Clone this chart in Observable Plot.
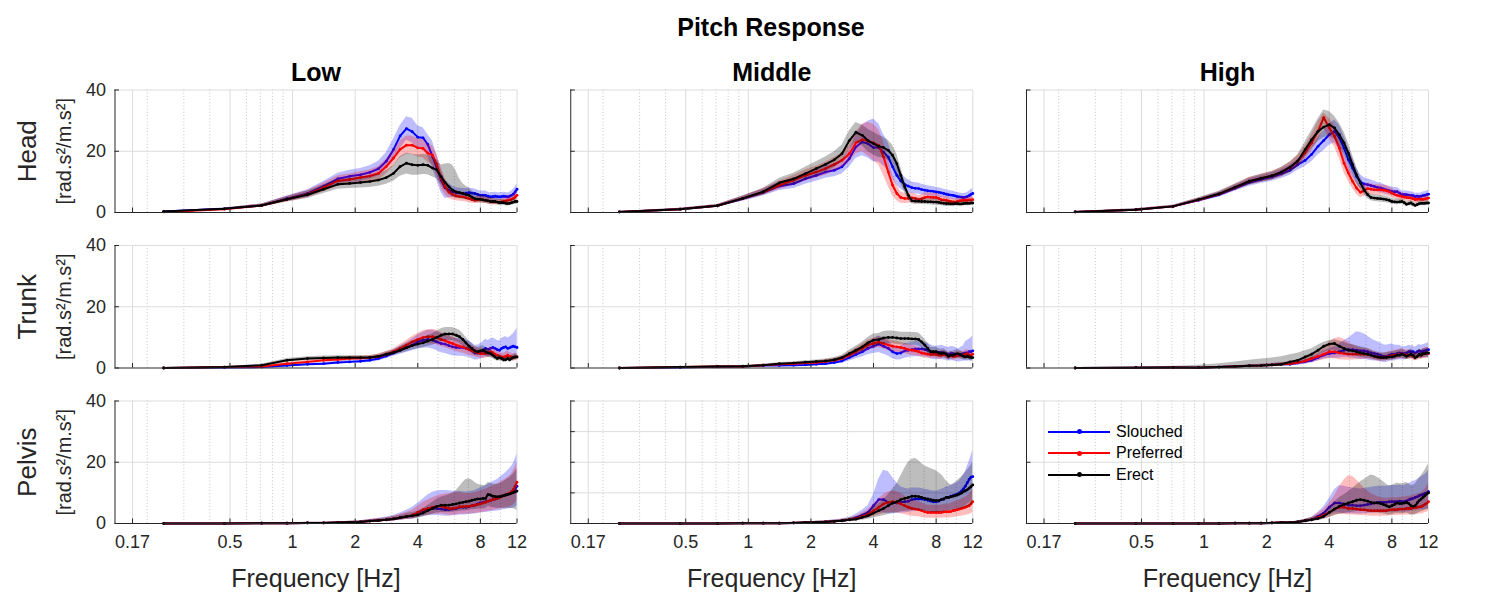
<!DOCTYPE html>
<html><head><meta charset="utf-8">
<script src="https://cdn.jsdelivr.net/npm/d3@7"></script>
<script src="https://cdn.jsdelivr.net/npm/@observablehq/plot@0.6"></script>
<style>
body{margin:0;background:#fff;}
#wrap{position:relative;width:1500px;height:600px;font-family:"Liberation Sans",Arial,Helvetica,sans-serif;background:#fff;overflow:hidden}
#title{position:absolute;left:471px;width:600px;top:12px;line-height:30px;text-align:center;font-weight:bold;font-size:25px;color:#000}
#chart{position:absolute;left:0;top:45px}
#legend{position:absolute;left:1048px;top:421px;font-size:16px;color:#000}
.lrow{display:flex;align-items:center;height:21.5px}
.lline{position:relative;width:62px;height:2px}
.ldot{position:absolute;left:28.5px;top:-1.5px;width:5px;height:5px;border-radius:50%}
.ltext{margin-left:6px}
</style></head>
<body><div id="wrap"><div id="title">Pitch Response</div><div id="chart"></div><div id="legend"></div></div>
<script>
// ---------- categories / labels ----------
const rows = ["Head", "Trunk", "Pelvis"];
const cols = ["Low", "Middle", "High"];
const seriesNames = ["Slouched", "Preferred", "Erect"];
const seriesColors = ["#0000ff", "#ff0000", "#000000"];
const yUnit = "[rad.s²/m.s²]";
const xLabel = "Frequency [Hz]";
const xDomain = [0.14, 12];
const xTicks = [0.17, 0.5, 1, 2, 4, 8, 12];
const xTickLabels = ["0.17", "0.5", "1", "2", "4", "8", "12"];
const xMinor = [0.2, 0.3, 0.4, 0.6, 0.7, 0.8, 0.9, 3, 5, 6, 7, 9, 10];
const yTicksLabeled = [0, 20, 40];
const yTicksDefault = [0, 20, 40];
const yTicksPelvisMiddle = [0, 10, 20, 30, 40];
const yGridDefault = [20, 40];
const yGridPelvisMiddle = [10, 20, 30, 40];

// ---------- frequencies (Hz) ----------
const freqs = [0.24,0.47,0.71,0.94,1.18,1.41,1.65,1.88,2.12,2.35,2.59,2.82,3.06,3.29,3.53,3.76,4.00,4.24,4.47,4.71,4.94,5.18,5.41,5.65,5.88,6.12,6.35,6.59,6.82,7.06,7.29,7.53,7.76,8.00,8.24,8.47,8.71,8.94,9.18,9.41,9.65,9.88,10.12,10.35,10.59,10.82,11.06,11.29,11.53,11.76,12.00];

// ---------- Head / Low ----------
const headLow_S = [0.3,1.2,2.3,4.5,6.2,8.6,11.0,11.8,12.3,13.1,14.3,16.7,20.6,25.0,27.4,26.4,24.6,24.4,22.2,18.3,14.5,10.6,8.1,7.3,6.7,6.5,6.4,6.2,6.3,6.5,6.3,6.2,5.9,5.6,5.6,5.6,5.3,5.1,5.2,5.3,5.2,5.1,5.2,5.3,5.2,5.1,5.3,5.6,6.0,6.7,7.6];
const headLow_S_lo = [0.2,0.9,1.8,3.6,5.0,7.1,9.2,9.8,10.2,10.9,11.9,13.9,17.0,20.8,23.6,22.8,21.0,20.6,18.4,14.5,10.5,6.5,4.6,4.8,5.0,5.0,5.0,4.8,4.9,5.0,4.9,4.8,4.6,4.4,4.4,4.4,4.1,4.0,4.0,4.1,4.0,3.9,4.0,4.1,4.0,3.9,4.1,4.3,4.6,5.1,5.7];
const headLow_S_hi = [0.4,1.5,2.8,5.4,7.4,10.1,12.8,13.8,14.4,15.3,16.7,19.5,24.0,28.3,31.3,30.8,28.3,27.7,25.5,23.3,18.8,13.8,10.6,9.5,8.6,8.2,8.0,7.8,7.8,8.0,7.8,7.7,7.3,7.0,7.0,7.0,6.6,6.4,6.5,6.6,6.5,6.4,6.5,6.6,6.5,6.4,6.6,7.0,7.5,8.3,9.4];
const headLow_P = [0.2,1.1,2.3,4.3,6.0,8.2,10.3,10.8,11.4,11.9,12.8,15.0,17.8,20.6,22.0,22.0,21.1,20.9,19.4,18.7,15.6,11.2,8.4,6.7,5.9,5.4,5.2,5.1,4.8,4.5,4.2,4.0,4.1,4.3,4.1,4.0,3.8,3.6,3.5,3.4,3.4,3.4,3.5,3.6,3.8,4.0,4.1,4.3,4.6,5.1,5.6];
const headLow_P_lo = [0.1,0.8,1.8,3.4,4.8,6.8,8.6,9.0,9.5,9.9,10.6,12.6,15.2,17.8,19.0,18.9,18.1,17.9,16.4,15.6,12.2,7.8,5.6,4.6,4.1,3.8,3.7,3.6,3.4,3.2,3.0,2.9,3.0,3.1,3.0,2.9,2.8,2.6,2.5,2.5,2.5,2.5,2.6,2.6,2.8,2.9,3.0,3.1,3.4,3.8,4.2];
const headLow_P_hi = [0.3,1.4,2.8,5.2,7.2,9.6,12.0,12.6,13.3,13.9,15.0,17.4,20.4,23.4,25.0,25.0,24.1,23.9,22.4,21.8,19.0,14.6,11.2,8.8,7.7,7.0,6.7,6.6,6.2,5.8,5.4,5.1,5.2,5.5,5.2,5.1,4.8,4.6,4.5,4.3,4.3,4.3,4.4,4.6,4.8,5.1,5.2,5.5,5.8,6.4,7.0];
const headLow_E = [0.3,1.2,2.3,4.3,5.8,7.6,9.2,9.5,9.8,10.1,10.6,11.4,12.8,15.0,16.1,15.6,15.4,15.6,15.4,14.5,13.9,11.7,9.8,8.4,7.3,6.7,6.5,6.2,5.9,5.6,5.0,4.5,4.4,4.3,4.1,4.0,3.8,3.6,3.6,3.6,3.4,3.2,3.2,3.2,3.0,2.9,3.0,3.2,3.4,3.6,3.6];
const headLow_E_lo = [0.2,0.9,1.8,3.4,4.6,6.2,7.6,7.8,8.0,8.2,8.6,9.2,10.2,11.8,12.6,12.2,12.2,12.4,12.3,11.6,11.0,9.0,7.2,5.9,5.0,4.6,4.5,4.4,4.2,4.0,3.6,3.3,3.2,3.1,3.0,2.9,2.8,2.6,2.6,2.6,2.5,2.3,2.3,2.3,2.2,2.1,2.2,2.3,2.5,2.6,2.6];
const headLow_E_hi = [0.4,1.5,2.8,5.2,7.0,9.0,10.8,11.2,11.6,12.0,12.6,13.6,15.4,18.2,19.4,19.0,18.8,19.0,18.8,18.0,17.2,15.5,15.8,16.0,15.5,13.5,11.0,9.5,8.6,8.0,7.0,6.4,6.2,6.0,5.6,5.4,5.1,4.8,4.8,4.8,4.6,4.3,4.3,4.3,4.0,3.9,4.0,4.3,4.6,4.8,4.8];

// ---------- Head / Middle ----------
const headMid_S = [0.2,1.1,2.2,4.5,6.5,8.6,9.4,11.0,12.1,13.2,13.8,14.9,17.6,21.4,23.0,22.5,21.2,21.2,19.7,18.1,14.9,12.1,10.3,9.2,8.6,8.1,7.9,7.8,7.5,7.3,7.1,7.0,6.9,6.7,6.6,6.4,6.2,6.0,5.8,5.7,5.6,5.4,5.2,5.1,5.0,4.9,5.0,5.2,5.5,5.9,6.2];
const headMid_S_lo = [0.1,0.8,1.8,3.7,5.4,7.2,7.8,9.2,10.2,11.2,11.7,12.6,14.8,17.6,18.5,17.8,16.5,16.5,15.2,13.8,11.0,8.8,7.6,6.9,6.5,6.2,6.1,6.0,5.8,5.6,5.5,5.4,5.3,5.2,5.1,4.9,4.8,4.6,4.4,4.3,4.2,4.1,3.9,3.8,3.7,3.6,3.7,3.9,4.1,4.4,4.6];
const headMid_S_hi = [0.3,1.4,2.6,5.3,7.6,10.0,11.0,12.8,14.0,15.2,15.9,17.2,20.4,25.2,28.5,29.8,30.5,29.0,25.5,22.8,18.8,15.4,13.0,11.5,10.7,10.0,9.7,9.6,9.2,9.0,8.7,8.6,8.5,8.2,8.1,7.9,7.6,7.4,7.2,7.1,7.0,6.7,6.5,6.4,6.3,6.2,6.3,6.5,6.9,7.4,7.8];
const headMid_P = [0.2,1.1,2.2,4.6,6.7,8.9,10.5,12.1,13.2,14.3,15.7,17.0,19.2,22.7,23.8,23.3,22.7,21.9,18.1,13.2,8.9,6.2,4.9,4.6,4.6,4.8,4.6,4.2,4.5,4.9,5.1,5.0,4.9,4.9,4.6,4.2,4.1,4.0,3.8,3.6,3.5,3.4,3.6,3.8,3.9,4.0,4.0,4.0,4.1,4.1,4.2];
const headMid_P_lo = [0.1,0.8,1.8,3.8,5.6,7.5,8.9,10.3,11.3,12.2,13.4,14.6,16.4,19.2,19.8,18.5,17.0,15.5,12.0,8.5,5.5,3.8,3.0,2.9,3.0,3.2,3.1,2.9,3.1,3.5,3.7,3.6,3.5,3.5,3.3,3.0,2.9,2.8,2.7,2.5,2.4,2.4,2.5,2.7,2.8,2.9,2.9,2.9,3.0,3.0,3.1];
const headMid_P_hi = [0.3,1.4,2.6,5.4,7.8,10.3,12.1,13.9,15.1,16.4,18.0,19.4,22.0,26.2,28.8,29.5,28.8,27.0,23.0,17.5,12.3,8.8,6.8,6.3,6.2,6.4,6.1,5.5,5.9,6.3,6.5,6.4,6.3,6.3,5.9,5.4,5.3,5.2,4.9,4.7,4.6,4.4,4.7,4.9,5.0,5.1,5.1,5.1,5.2,5.2,5.3];
const headMid_E = [0.2,1.1,2.2,4.6,6.8,9.7,11.0,12.7,14.3,15.7,17.2,19.2,23.5,26.2,25.2,23.5,22.5,21.6,21.2,20.3,18.7,15.9,12.1,8.4,5.6,3.8,3.7,3.7,3.6,3.6,3.5,3.5,3.4,3.4,3.3,3.1,3.0,2.9,2.9,2.8,2.8,2.9,2.9,2.8,2.8,2.9,3.0,3.0,3.0,3.1,3.1];
const headMid_E_lo = [0.1,0.8,1.8,3.8,5.7,8.2,9.2,10.6,12.0,13.3,14.6,16.4,20.4,23.0,21.8,19.8,18.8,18.0,17.8,17.0,15.4,12.8,9.5,6.4,4.2,2.8,2.7,2.7,2.6,2.6,2.5,2.5,2.4,2.4,2.3,2.2,2.1,2.0,2.0,2.0,2.0,2.1,2.1,2.0,2.0,2.1,2.2,2.2,2.2,2.3,2.3];
const headMid_E_hi = [0.3,1.4,2.6,5.4,7.9,11.2,12.8,14.8,16.6,18.1,19.8,22.0,26.6,29.4,28.6,27.2,26.2,25.2,24.6,23.6,22.0,19.0,14.7,10.4,7.0,4.8,4.7,4.7,4.6,4.6,4.5,4.5,4.4,4.4,4.3,4.0,3.9,3.8,3.8,3.6,3.6,3.7,3.7,3.6,3.6,3.7,3.8,3.8,3.8,3.9,3.9];

// ---------- Head / High ----------
const headHigh_S = [0.2,0.9,2.0,4.0,5.8,7.9,9.8,10.8,11.6,12.6,13.8,15.6,17.0,19.0,21.6,23.5,25.4,26.5,24.4,21.0,17.3,14.5,11.8,10.0,9.3,9.1,8.8,8.5,8.2,8.0,7.7,7.4,7.1,6.9,6.8,6.8,6.3,5.8,5.9,5.8,5.7,5.6,5.5,5.2,5.3,5.2,5.3,5.5,5.6,5.8,6.0];
const headHigh_S_lo = [0.1,0.6,1.6,3.4,5.0,6.9,8.6,9.5,10.2,11.1,12.2,13.8,15.0,16.6,18.8,20.2,22.0,22.8,20.6,17.4,14.0,11.5,9.3,7.9,7.4,7.3,7.1,6.9,6.7,6.5,6.3,6.0,5.8,5.6,5.5,5.5,5.1,4.7,4.8,4.7,4.6,4.5,4.4,4.2,4.3,4.2,4.3,4.4,4.5,4.7,4.8];
const headHigh_S_hi = [0.3,1.2,2.4,4.6,6.6,8.9,11.0,12.1,13.0,14.1,15.4,17.4,19.0,21.4,24.4,26.8,28.8,30.2,28.4,25.0,21.0,17.8,14.6,12.3,11.4,11.0,10.6,10.2,9.8,9.6,9.2,8.8,8.5,8.3,8.2,8.2,7.6,7.0,7.1,7.0,6.9,6.8,6.7,6.3,6.4,6.3,6.4,6.7,6.8,7.0,7.3];
const headHigh_P = [0.2,0.9,2.0,4.1,6.0,8.2,10.2,11.2,12.0,13.2,14.7,16.7,19.5,22.7,26.5,31.0,27.6,24.9,21.0,16.1,12.9,10.1,8.0,6.6,7.1,7.8,7.6,7.4,7.4,7.4,7.3,7.1,6.8,6.3,5.9,5.6,5.4,5.2,5.0,4.9,4.8,4.7,4.5,4.2,4.3,4.4,4.3,4.3,4.4,4.6,4.7];
const headHigh_P_lo = [0.1,0.6,1.6,3.5,5.2,7.2,9.0,9.9,10.6,11.7,13.0,14.8,17.2,20.0,23.4,27.6,24.2,21.4,17.6,13.0,10.2,7.8,6.0,4.8,5.3,6.0,5.8,5.7,5.7,5.7,5.6,5.4,5.2,4.8,4.5,4.2,4.1,3.9,3.8,3.7,3.6,3.5,3.4,3.1,3.2,3.3,3.2,3.2,3.3,3.4,3.5];
const headHigh_P_hi = [0.3,1.2,2.4,4.7,6.8,9.2,11.4,12.5,13.4,14.7,16.4,18.6,21.8,25.4,29.6,32.5,30.8,28.4,24.4,19.2,15.6,12.4,10.0,8.4,8.9,9.6,9.4,9.1,9.1,9.1,9.0,8.8,8.4,7.8,7.3,7.0,6.7,6.5,6.2,6.1,6.0,5.9,5.6,5.3,5.4,5.5,5.4,5.4,5.5,5.8,5.9];
const headHigh_E = [0.2,0.9,2.0,4.2,6.1,8.3,10.2,11.2,12.0,13.2,14.8,16.8,20.5,23.8,26.5,27.9,28.7,27.6,25.4,22.7,19.4,15.6,12.3,9.6,7.4,5.8,4.9,4.7,4.6,4.5,4.4,4.2,4.0,3.6,3.5,3.4,3.5,3.6,3.2,2.7,2.9,3.1,2.7,2.3,2.6,2.9,3.0,3.0,3.0,3.1,3.1];
const headHigh_E_lo = [0.1,0.6,1.6,3.6,5.3,7.3,9.0,9.9,10.6,11.7,13.1,14.8,18.0,20.8,23.2,24.4,25.0,23.8,21.6,19.0,16.0,12.6,9.8,7.6,5.8,4.5,3.8,3.6,3.5,3.4,3.3,3.2,3.0,2.7,2.6,2.5,2.6,2.7,2.3,1.9,2.1,2.3,1.9,1.6,1.8,2.1,2.2,2.2,2.2,2.3,2.3];
const headHigh_E_hi = [0.3,1.2,2.4,4.8,6.9,9.3,11.4,12.5,13.4,14.7,16.5,18.8,23.0,26.8,30.5,33.5,33.0,31.4,29.2,26.4,22.8,18.6,14.8,11.6,9.0,7.1,6.0,5.8,5.7,5.6,5.5,5.2,5.0,4.5,4.4,4.3,4.4,4.5,4.1,3.5,3.7,3.9,3.5,3.0,3.4,3.7,3.8,3.8,3.8,3.9,3.9];

// ---------- Trunk / Low ----------
const trunkLow_S = [0.0,0.2,0.3,0.8,1.2,1.4,1.8,2.0,2.2,2.5,3.1,3.9,4.9,5.8,6.7,7.5,8.5,9.1,9.3,9.1,8.5,8.0,7.8,7.3,6.9,6.7,6.7,6.7,6.4,6.1,5.6,4.9,4.9,5.3,5.8,6.4,6.1,6.4,6.7,6.4,6.0,5.8,6.4,6.7,6.9,6.4,6.6,6.9,7.1,6.9,6.7];
const trunkLow_S_lo = [0.0,0.1,0.2,0.5,0.8,1.0,1.3,1.5,1.6,1.8,2.3,3.0,3.8,4.5,5.1,5.6,6.2,6.5,6.5,6.2,5.6,5.0,4.7,4.3,4.0,3.8,3.8,3.8,3.6,3.4,3.0,2.6,2.6,2.9,3.2,3.6,3.4,3.6,3.8,3.5,3.2,3.0,3.4,3.6,3.7,3.3,3.4,3.6,3.7,3.5,3.4];
const trunkLow_S_hi = [0.1,0.3,0.5,1.1,1.6,1.8,2.3,2.6,2.8,3.2,3.9,4.8,6.0,7.1,8.3,9.5,10.8,11.7,12.3,12.4,11.8,11.2,11.0,10.4,9.9,9.6,9.6,9.6,9.2,8.8,8.2,7.4,7.4,7.9,8.6,9.4,9.0,9.4,9.8,9.5,9.0,8.8,9.6,10.0,10.3,9.8,10.1,10.6,11.2,12.0,13.0];
const trunkLow_P = [0.0,0.3,0.5,1.4,2.0,2.5,2.8,3.1,3.2,3.4,3.8,4.5,5.3,6.4,7.5,8.5,9.3,10.0,10.2,10.2,10.0,9.3,8.9,8.4,8.0,7.5,7.1,6.9,6.4,6.0,5.6,5.3,5.0,4.7,4.7,4.7,4.9,5.3,5.0,4.5,4.2,3.8,3.6,3.6,3.8,4.2,3.8,3.6,3.4,3.6,3.6];
const trunkLow_P_lo = [0.0,0.2,0.3,1.0,1.5,1.9,2.2,2.4,2.5,2.7,3.0,3.6,4.3,5.1,6.0,6.7,7.3,7.8,7.9,7.8,7.6,7.0,6.6,6.2,5.8,5.4,5.1,4.9,4.5,4.2,3.9,3.7,3.4,3.2,3.2,3.2,3.4,3.7,3.4,3.0,2.8,2.5,2.4,2.4,2.5,2.8,2.5,2.4,2.2,2.4,2.4];
const trunkLow_P_hi = [0.1,0.4,0.7,1.8,2.5,3.1,3.4,3.8,3.9,4.1,4.6,5.4,6.3,7.7,9.0,10.3,11.3,12.2,12.5,12.6,12.4,11.6,11.2,10.6,10.2,9.6,9.1,8.9,8.3,7.8,7.3,6.9,6.6,6.2,6.2,6.2,6.4,6.9,6.6,6.0,5.6,5.1,4.8,4.8,5.1,5.6,5.1,4.8,4.6,4.8,4.8];
const trunkLow_E = [0.0,0.3,0.9,2.5,3.1,3.3,3.4,3.4,3.4,3.4,3.8,4.5,5.0,5.8,6.6,7.3,7.8,8.2,8.8,9.3,10.0,10.7,11.1,11.1,11.1,10.7,10.2,9.3,8.2,7.1,6.4,5.6,5.3,5.6,5.8,5.3,4.9,4.7,4.2,3.6,3.1,3.4,3.1,2.7,2.7,3.1,2.7,3.1,3.4,3.6,3.6];
const trunkLow_E_lo = [0.0,0.2,0.6,1.9,2.5,2.7,2.8,2.8,2.8,2.8,3.1,3.7,4.1,4.7,5.3,5.9,6.3,6.6,7.0,7.4,8.0,8.6,9.0,9.0,9.0,8.6,8.1,7.3,6.4,5.4,4.8,4.2,3.9,4.2,4.3,3.9,3.6,3.4,3.0,2.6,2.2,2.4,2.2,1.9,1.9,2.2,1.9,2.2,2.4,2.6,2.6];
const trunkLow_E_hi = [0.1,0.4,1.2,3.1,3.7,3.9,4.0,4.0,4.0,4.0,4.5,5.3,5.9,6.9,7.9,8.7,9.3,9.8,10.6,11.2,12.0,12.8,13.2,13.2,13.2,12.8,12.3,11.3,10.0,8.8,8.0,7.0,6.7,7.0,7.3,6.7,6.2,6.0,5.4,4.6,4.0,4.4,4.0,3.5,3.5,4.0,3.5,4.0,4.4,4.6,4.6];

// ---------- Trunk / Middle ----------
const trunkMid_S = [0.0,0.2,0.4,0.5,0.8,0.8,0.9,1.0,1.2,1.4,1.8,2.3,3.4,4.4,5.3,6.4,7.1,7.8,7.1,6.4,5.3,4.7,4.9,5.6,5.8,6.0,6.2,6.2,6.2,6.0,5.8,5.3,5.0,4.9,5.0,5.1,4.9,4.7,4.5,4.7,4.7,4.5,4.2,4.2,4.5,4.7,4.9,4.9,5.3,5.3,5.6];
const trunkMid_S_lo = [0.0,0.1,0.2,0.3,0.5,0.5,0.6,0.7,0.8,0.9,1.2,1.5,2.3,3.0,3.6,4.3,4.7,5.1,4.5,3.9,3.0,2.6,2.7,3.2,3.4,3.6,3.7,3.7,3.7,3.6,3.4,3.0,2.8,2.7,2.8,2.8,2.6,2.5,2.3,2.4,2.4,2.2,2.0,2.0,2.1,2.2,2.3,2.2,2.4,2.3,2.4];
const trunkMid_S_hi = [0.1,0.3,0.6,0.7,1.1,1.1,1.2,1.3,1.6,1.9,2.4,3.1,4.5,5.8,7.0,8.5,9.5,10.5,9.7,8.9,7.6,6.8,7.1,8.0,8.2,8.4,8.7,8.7,8.7,8.4,8.2,7.6,7.2,7.1,7.2,7.4,7.2,6.9,6.7,7.0,7.0,6.8,6.4,6.4,6.9,7.2,8.6,9.0,9.4,9.8,10.5];
const trunkMid_P = [0.0,0.3,0.5,0.5,0.9,1.2,1.4,1.6,1.8,2.1,2.5,3.1,4.2,5.3,6.4,7.5,8.0,8.5,8.0,7.5,7.1,6.9,6.7,6.4,6.0,5.8,5.6,5.3,4.9,4.7,4.5,4.4,4.5,4.4,4.2,4.2,4.5,4.2,3.8,4.2,3.8,3.8,4.2,4.2,4.2,4.2,4.5,4.7,4.2,4.2,4.5];
const trunkMid_P_lo = [0.0,0.2,0.3,0.3,0.6,0.9,1.0,1.2,1.3,1.5,1.9,2.4,3.2,4.1,5.0,5.9,6.3,6.7,6.2,5.7,5.3,5.1,5.0,4.7,4.4,4.2,4.0,3.8,3.5,3.3,3.2,3.1,3.2,3.1,2.9,2.9,3.2,2.9,2.6,2.9,2.6,2.6,2.9,2.9,2.9,2.9,3.2,3.3,2.9,2.9,3.1];
const trunkMid_P_hi = [0.1,0.4,0.7,0.7,1.2,1.5,1.8,2.0,2.3,2.7,3.1,3.8,5.2,6.5,7.8,9.1,9.7,10.3,9.8,9.3,8.9,8.7,8.4,8.1,7.6,7.4,7.2,6.8,6.3,6.1,5.8,5.7,5.8,5.7,5.5,5.5,5.8,5.5,5.0,5.5,5.0,5.0,5.5,5.5,5.5,5.5,5.8,6.1,5.5,5.5,5.9];
const trunkMid_E = [0.0,0.3,0.5,0.6,0.9,1.4,1.6,1.9,2.1,2.3,2.7,3.4,4.7,5.8,6.9,8.2,9.1,9.3,9.8,10.0,10.0,9.8,9.6,9.6,9.6,9.5,9.5,9.3,8.5,7.5,6.4,5.3,5.3,5.3,4.9,4.7,4.9,4.5,3.8,4.2,4.2,4.5,4.7,4.5,4.2,3.8,3.6,3.8,3.6,3.4,3.4];
const trunkMid_E_lo = [0.0,0.2,0.3,0.4,0.6,1.0,1.2,1.4,1.6,1.7,2.0,2.6,3.6,4.5,5.4,6.4,7.1,7.3,7.7,7.9,7.9,7.7,7.5,7.5,7.5,7.4,7.4,7.2,6.5,5.6,4.7,3.8,3.8,3.8,3.5,3.3,3.5,3.2,2.6,2.9,2.9,3.2,3.3,3.2,2.9,2.6,2.5,2.6,2.5,2.3,2.3];
const trunkMid_E_hi = [0.1,0.4,0.7,0.8,1.2,1.8,2.0,2.4,2.6,2.9,3.4,4.2,5.8,7.1,8.4,10.0,11.1,11.3,11.9,12.1,12.1,11.9,11.7,11.7,11.7,11.6,11.6,11.4,10.5,9.4,8.1,6.8,6.8,6.8,6.3,6.1,6.3,5.8,5.0,5.5,5.5,5.8,6.1,5.8,5.5,5.0,4.7,5.0,4.7,4.5,4.5];

// ---------- Trunk / High ----------
const trunkHigh_S = [0.0,0.1,0.2,0.1,0.3,0.5,0.7,0.8,1.0,1.2,1.2,1.6,2.0,2.5,3.4,4.2,4.7,4.9,5.3,5.8,6.0,6.0,5.8,5.6,5.6,5.3,4.9,4.7,4.5,4.2,3.8,3.8,4.2,4.5,4.5,4.7,4.9,4.7,4.7,4.9,5.3,5.3,5.3,4.9,5.3,5.6,5.3,5.5,5.6,5.8,6.0];
const trunkHigh_S_lo = [0.0,0.0,0.1,0.0,0.2,0.3,0.4,0.5,0.6,0.7,0.7,1.0,1.3,1.6,2.3,2.9,3.2,3.2,3.3,3.5,3.4,3.2,3.0,2.8,2.8,2.6,2.4,2.3,2.2,2.0,1.8,1.8,2.1,2.3,2.3,2.5,2.7,2.6,2.6,2.8,3.1,3.1,3.1,2.8,3.1,3.3,3.1,3.2,3.3,3.4,3.5];
const trunkHigh_S_hi = [0.1,0.2,0.3,0.3,0.5,0.7,1.0,1.2,1.5,1.8,1.8,2.3,2.8,3.5,4.6,5.6,6.3,6.9,7.8,8.9,9.8,10.8,11.8,11.6,11.2,10.4,9.6,9.0,8.6,8.2,7.6,7.4,7.7,7.8,7.5,7.4,7.4,7.0,6.9,7.0,7.4,7.3,7.3,6.8,7.3,7.7,7.4,7.6,7.8,8.0,8.3];
const trunkHigh_P = [0.0,0.1,0.2,0.1,0.3,0.5,0.7,0.8,1.0,1.2,1.4,1.8,2.3,3.1,3.8,4.5,5.3,5.3,4.9,4.7,4.5,4.5,4.5,4.5,4.5,4.4,4.2,3.8,3.6,3.4,3.4,3.6,3.8,4.0,4.2,4.2,4.5,4.5,4.4,4.2,4.2,4.2,3.8,3.6,3.8,4.2,4.2,4.5,4.7,4.9,4.7];
const trunkHigh_P_lo = [0.0,0.0,0.1,0.0,0.2,0.3,0.4,0.5,0.6,0.7,0.8,1.1,1.4,1.9,2.3,2.7,3.1,3.0,2.7,2.6,2.5,2.6,2.7,2.8,2.9,2.9,2.8,2.5,2.4,2.2,2.2,2.4,2.5,2.7,2.8,2.8,3.0,3.0,2.9,2.8,2.8,2.8,2.5,2.4,2.5,2.8,2.8,3.0,3.1,3.2,3.1];
const trunkHigh_P_hi = [0.1,0.2,0.3,0.3,0.5,0.7,1.0,1.2,1.5,1.8,2.1,2.6,3.4,4.5,5.6,6.8,8.4,9.6,10.0,9.4,8.4,7.6,7.0,6.6,6.4,6.2,5.8,5.3,5.0,4.7,4.7,5.0,5.3,5.5,5.8,5.8,6.2,6.2,6.1,5.8,5.8,5.8,5.3,5.0,5.3,5.8,5.8,6.2,6.5,6.8,6.5];
const trunkHigh_E = [0.0,0.1,0.2,0.1,0.3,0.5,0.7,0.8,1.0,1.2,2.0,2.5,3.6,4.5,5.8,7.1,7.8,8.0,7.1,6.4,5.8,5.6,5.3,4.9,4.7,4.5,4.2,3.8,3.6,3.4,3.4,3.4,3.6,3.6,3.8,4.2,4.2,4.5,4.2,3.8,4.2,4.5,4.2,3.4,3.8,4.5,4.2,4.7,4.7,4.9,4.9];
const trunkHigh_E_lo = [0.0,0.0,0.1,0.0,0.1,0.2,0.3,0.3,0.4,0.5,1.0,1.4,2.3,3.0,4.0,5.0,5.6,5.8,5.1,4.6,4.2,4.0,3.8,3.5,3.3,3.2,3.0,2.7,2.5,2.4,2.4,2.4,2.5,2.5,2.7,3.0,3.0,3.2,3.0,2.7,3.0,3.2,3.0,2.4,2.7,3.2,3.0,3.4,3.4,3.5,3.5];
const trunkHigh_E_hi = [0.1,0.3,0.6,0.9,1.4,2.0,2.5,2.9,3.3,3.7,4.3,4.8,5.6,6.3,7.4,8.4,9.0,9.2,8.8,8.4,7.8,7.6,7.3,6.9,6.7,6.4,6.0,5.5,5.2,5.0,5.0,5.0,5.2,5.2,5.4,5.8,5.8,6.2,5.8,5.3,5.8,6.2,5.8,4.8,5.3,6.2,5.8,6.4,6.4,6.6,6.6];

// ---------- Pelvis / Low ----------
const pelvisLow_S = [0.0,0.0,0.1,0.1,0.2,0.2,0.3,0.4,0.5,0.8,1.0,1.2,1.5,1.9,2.3,2.5,3.4,4.2,4.7,4.9,4.9,4.7,4.5,4.5,4.7,4.9,5.3,5.3,5.3,5.5,5.8,6.0,6.4,6.7,6.9,7.1,7.3,7.5,7.8,8.0,8.2,8.5,8.9,9.1,9.3,9.5,9.8,10.1,10.5,11.3,12.2];
const pelvisLow_S_lo = [0.0,0.0,0.0,0.0,0.1,0.1,0.2,0.2,0.3,0.5,0.6,0.7,0.9,1.1,1.3,1.4,1.9,2.3,2.5,2.6,2.6,2.5,2.4,2.4,2.5,2.6,2.8,2.8,2.8,2.9,3.0,3.1,3.3,3.4,3.5,3.6,3.7,3.8,3.9,4.0,4.1,4.2,4.4,4.5,4.6,4.7,4.8,4.9,5.1,5.4,5.8];
const pelvisLow_S_hi = [0.1,0.1,0.2,0.2,0.4,0.4,0.5,0.7,0.9,1.3,1.7,2.1,2.7,3.4,4.3,5.2,6.6,8.0,9.3,10.2,10.6,10.8,10.8,10.7,10.5,10.4,10.5,10.4,10.3,10.4,10.6,10.8,11.2,11.6,12.0,12.4,12.8,13.2,13.6,14.0,14.4,14.9,15.5,16.0,16.6,17.2,17.9,18.6,19.6,21.0,22.8];
const pelvisLow_P = [0.0,0.0,0.1,0.1,0.2,0.2,0.3,0.4,0.5,0.8,1.0,1.2,1.5,1.9,2.3,2.7,3.6,4.5,4.9,5.3,5.6,5.6,5.3,4.9,4.9,5.1,5.5,5.5,5.6,5.6,5.8,6.0,6.2,6.4,6.7,6.9,7.3,7.5,7.8,8.0,8.2,8.5,8.8,9.1,9.3,9.6,9.9,10.4,11.1,12.2,13.5];
const pelvisLow_P_lo = [0.0,0.0,0.0,0.0,0.1,0.1,0.2,0.2,0.3,0.5,0.6,0.7,0.9,1.1,1.3,1.5,2.0,2.5,2.7,2.9,3.1,3.1,2.9,2.7,2.7,2.8,3.0,3.0,3.1,3.1,3.2,3.3,3.4,3.5,3.7,3.8,4.0,4.1,4.3,4.4,4.5,4.7,4.8,5.0,5.1,5.3,5.4,5.7,6.1,6.7,7.4];
const pelvisLow_P_hi = [0.1,0.1,0.2,0.2,0.4,0.4,0.5,0.7,0.9,1.3,1.6,1.9,2.4,3.0,3.7,4.3,5.6,6.9,7.7,8.4,9.0,9.4,9.6,9.8,10.0,10.1,10.2,10.0,9.9,9.8,9.9,10.1,10.3,10.5,10.9,11.2,11.6,11.9,12.3,12.6,12.9,13.3,13.8,14.2,14.6,15.0,15.5,16.2,17.2,18.6,20.2];
const pelvisLow_E = [0.0,0.0,0.1,0.1,0.2,0.2,0.3,0.4,0.5,0.8,1.0,1.2,1.5,1.9,2.3,2.5,2.8,3.4,4.2,4.9,5.6,6.0,6.0,6.0,6.2,6.4,6.7,6.9,7.1,7.3,7.6,7.8,8.0,8.0,8.2,8.2,9.5,9.3,8.9,8.8,8.7,8.8,8.9,9.1,9.3,9.5,9.6,9.9,10.1,10.3,10.6];
const pelvisLow_E_lo = [0.0,0.0,0.0,0.0,0.1,0.1,0.2,0.2,0.3,0.5,0.6,0.7,0.9,1.1,1.4,1.5,1.7,2.1,2.6,3.0,3.4,3.6,3.6,3.6,3.7,3.8,4.0,4.1,4.2,4.3,4.5,4.6,4.7,4.7,4.8,4.8,5.6,5.4,5.2,5.1,5.0,5.0,5.0,5.0,5.0,5.0,4.9,4.9,4.8,4.6,4.3];
const pelvisLow_E_hi = [0.1,0.1,0.2,0.2,0.4,0.4,0.5,0.7,0.9,1.2,1.5,1.8,2.2,2.7,3.3,3.6,4.0,4.8,5.9,6.9,7.9,8.6,9.0,9.4,10.0,10.8,12.0,13.4,14.4,14.6,14.2,13.4,12.8,12.6,12.4,12.3,13.4,13.2,12.9,12.8,12.8,13.0,13.3,13.7,14.1,14.6,15.0,15.6,16.2,17.0,17.9];

// ---------- Pelvis / Middle ----------
const pelvisMid_S = [0.0,0.0,0.0,0.1,0.1,0.1,0.2,0.3,0.4,0.5,0.7,0.9,1.2,1.9,2.7,3.6,5.8,7.8,7.8,6.9,6.7,6.7,6.9,7.1,7.3,7.8,8.0,8.0,8.0,7.8,7.6,7.3,7.1,7.1,7.3,7.8,8.0,8.5,8.5,8.9,9.1,9.3,9.6,10.0,10.6,11.3,12.2,13.3,14.4,15.1,15.3];
const pelvisMid_S_lo = [0.0,0.0,0.0,0.0,0.0,0.0,0.1,0.2,0.2,0.3,0.4,0.5,0.7,1.0,1.4,1.8,2.8,3.5,3.4,3.2,3.2,3.3,3.4,3.5,3.6,3.8,3.9,3.9,3.9,3.8,3.7,3.6,3.5,3.5,3.6,3.8,3.9,4.1,4.1,4.3,4.4,4.5,4.6,4.8,5.1,5.4,5.8,6.3,6.8,7.1,7.2];
const pelvisMid_S_hi = [0.1,0.1,0.1,0.2,0.2,0.2,0.4,0.5,0.7,0.9,1.2,1.5,2.0,3.0,4.3,5.8,9.5,14.5,17.4,17.0,15.0,13.2,12.0,11.5,11.3,11.6,11.6,11.6,11.4,11.2,11.0,10.8,10.6,10.6,10.8,11.2,11.4,12.0,12.0,12.4,12.7,13.0,13.4,14.0,14.8,15.8,17.0,18.6,20.2,22.0,23.8];
const pelvisMid_P = [0.0,0.0,0.0,0.1,0.1,0.1,0.2,0.3,0.4,0.5,0.7,0.9,1.2,1.6,2.3,3.0,4.2,5.3,6.4,6.9,7.1,6.9,6.4,5.8,5.3,4.9,4.7,4.5,4.2,3.8,3.6,3.6,3.6,3.6,3.6,3.6,3.8,3.8,3.8,3.9,4.2,4.3,4.5,4.7,4.9,5.1,5.3,5.6,5.8,6.4,7.1];
const pelvisMid_P_lo = [0.0,0.0,0.0,0.0,0.0,0.0,0.1,0.2,0.2,0.3,0.4,0.5,0.7,0.9,1.3,1.7,2.3,2.8,3.3,3.5,3.6,3.5,3.2,2.9,2.6,2.4,2.3,2.2,2.0,1.8,1.7,1.7,1.7,1.7,1.7,1.7,1.8,1.8,1.8,1.9,2.0,2.1,2.2,2.3,2.4,2.5,2.6,2.8,2.9,3.2,3.6];
const pelvisMid_P_hi = [0.1,0.1,0.1,0.2,0.2,0.2,0.4,0.5,0.7,0.9,1.1,1.4,1.8,2.4,3.4,4.5,6.3,8.0,9.5,10.3,10.6,10.4,9.8,9.0,8.3,7.8,7.5,7.2,6.8,6.3,6.0,6.0,6.0,6.0,6.0,6.0,6.3,6.3,6.3,6.5,6.9,7.1,7.4,7.7,8.0,8.3,8.6,9.0,9.4,10.2,11.2];
const pelvisMid_E = [0.0,0.0,0.0,0.1,0.1,0.1,0.2,0.3,0.4,0.5,0.7,0.9,1.2,1.4,2.0,2.5,3.4,4.2,4.9,5.8,6.7,7.1,7.8,8.2,8.5,8.9,8.9,8.8,8.5,8.2,8.0,7.8,7.6,7.5,7.5,7.8,8.0,8.5,8.5,8.7,8.9,9.1,9.3,9.6,9.9,10.4,10.7,11.0,11.5,12.0,12.6];
const pelvisMid_E_lo = [0.0,0.0,0.0,0.0,0.0,0.0,0.1,0.2,0.2,0.3,0.4,0.5,0.7,0.8,1.1,1.4,1.8,2.2,2.5,2.9,3.3,3.5,3.8,4.0,4.1,4.3,4.3,4.2,4.1,3.9,3.8,3.7,3.6,3.6,3.6,3.7,3.8,4.1,4.1,4.2,4.3,4.4,4.5,4.6,4.8,5.0,5.2,5.3,5.6,5.8,6.1];
const pelvisMid_E_hi = [0.1,0.1,0.1,0.2,0.2,0.2,0.4,0.5,0.7,0.9,1.1,1.4,1.8,2.1,3.0,3.8,5.2,6.5,7.8,9.4,11.2,13.0,15.5,18.0,20.0,21.0,21.2,20.6,19.6,18.8,18.4,18.0,17.6,17.2,16.6,16.0,15.0,14.0,13.2,12.6,12.8,13.4,14.0,14.6,15.2,15.8,16.6,17.4,18.2,19.0,20.0];

// ---------- Pelvis / High ----------
const pelvisHigh_S = [0.0,0.0,0.0,0.0,0.0,0.1,0.1,0.1,0.2,0.3,0.3,0.5,0.9,1.2,2.3,3.4,5.3,6.7,6.7,6.4,6.0,6.0,5.8,5.8,6.0,6.2,6.4,6.7,6.9,6.9,6.9,6.9,7.1,7.1,7.1,7.1,7.3,7.1,7.1,7.4,7.7,8.0,8.2,8.5,8.7,9.1,9.3,9.5,9.8,10.0,10.4];
const pelvisHigh_S_lo = [0.0,0.0,0.0,0.0,0.0,0.0,0.0,0.0,0.1,0.2,0.2,0.3,0.5,0.7,1.3,1.9,2.8,3.4,3.4,3.3,3.2,3.2,3.1,3.1,3.2,3.3,3.4,3.5,3.6,3.6,3.6,3.6,3.7,3.7,3.7,3.7,3.8,3.7,3.7,3.8,3.9,4.0,4.1,4.2,4.3,4.4,4.5,4.5,4.6,4.7,4.8];
const pelvisHigh_S_hi = [0.1,0.1,0.1,0.1,0.1,0.2,0.2,0.2,0.4,0.5,0.5,0.8,1.4,2.0,3.6,5.4,8.2,11.0,12.4,12.2,11.8,11.6,11.4,11.3,11.4,11.6,11.8,12.0,12.2,12.2,12.2,12.2,12.4,12.4,12.4,12.4,12.6,12.4,12.4,12.7,13.0,13.4,13.7,14.0,14.4,14.8,15.2,15.6,16.0,16.6,17.3];
const pelvisHigh_P = [0.0,0.0,0.0,0.0,0.0,0.1,0.1,0.1,0.2,0.3,0.3,0.5,0.9,1.2,2.0,2.7,3.6,4.7,5.3,5.3,4.9,4.9,4.7,4.5,4.5,4.3,4.2,4.2,4.2,4.2,4.2,4.2,4.4,4.5,4.5,4.5,4.7,4.7,4.7,4.9,4.9,4.9,5.1,5.2,5.3,5.4,5.5,5.8,6.2,6.6,7.1];
const pelvisHigh_P_lo = [0.0,0.0,0.0,0.0,0.0,0.0,0.0,0.0,0.1,0.2,0.2,0.3,0.5,0.7,1.1,1.5,2.0,2.6,2.9,2.9,2.8,2.8,2.7,2.6,2.6,2.5,2.4,2.4,2.4,2.4,2.4,2.4,2.5,2.6,2.6,2.6,2.7,2.7,2.7,2.8,2.8,2.8,2.9,3.0,3.0,3.1,3.1,3.3,3.5,3.7,4.0];
const pelvisHigh_P_hi = [0.1,0.1,0.1,0.1,0.1,0.2,0.2,0.2,0.4,0.5,0.5,0.8,1.4,2.0,3.4,4.6,6.6,9.0,11.8,14.2,15.6,15.4,14.2,12.8,11.6,10.6,9.8,9.2,8.8,8.5,8.3,8.2,8.3,8.4,8.4,8.4,8.6,8.6,8.6,8.8,8.9,9.0,9.2,9.4,9.6,9.8,10.0,10.5,11.2,12.0,13.0];
const pelvisHigh_E = [0.0,0.0,0.0,0.0,0.0,0.1,0.1,0.1,0.2,0.3,0.3,0.5,0.9,1.2,1.6,2.3,3.6,4.7,5.6,6.2,6.7,7.1,7.6,7.8,7.6,7.3,6.9,6.7,6.7,6.5,6.2,5.8,5.4,5.8,6.2,6.7,6.5,6.5,6.7,6.9,6.5,5.8,5.6,5.8,6.7,7.5,8.0,8.5,9.1,9.6,10.0];
const pelvisHigh_E_lo = [0.0,0.0,0.0,0.0,0.0,0.0,0.0,0.0,0.1,0.2,0.2,0.3,0.5,0.7,0.9,1.3,2.0,2.6,3.0,3.3,3.5,3.7,3.9,4.0,3.9,3.7,3.5,3.4,3.4,3.3,3.1,2.9,2.7,2.9,3.1,3.3,3.2,3.2,3.3,3.4,3.2,2.8,2.7,2.8,3.2,3.6,3.8,4.0,4.3,4.5,4.6];
const pelvisHigh_E_hi = [0.1,0.1,0.1,0.1,0.1,0.2,0.2,0.2,0.4,0.5,0.5,0.8,1.4,2.0,2.6,3.6,5.4,7.0,8.4,9.4,10.4,11.4,12.6,13.6,14.4,15.2,15.8,15.6,15.0,14.4,13.6,12.8,12.2,12.4,12.8,13.2,13.0,13.0,13.2,13.4,13.0,12.4,12.4,12.8,13.8,14.8,15.6,16.4,17.4,18.4,19.4];

// ---------- assemble ----------
const panels = [
  ["Head", "Low", [headLow_S, headLow_S_lo, headLow_S_hi], [headLow_P, headLow_P_lo, headLow_P_hi], [headLow_E, headLow_E_lo, headLow_E_hi]],
  ["Head", "Middle", [headMid_S, headMid_S_lo, headMid_S_hi], [headMid_P, headMid_P_lo, headMid_P_hi], [headMid_E, headMid_E_lo, headMid_E_hi]],
  ["Head", "High", [headHigh_S, headHigh_S_lo, headHigh_S_hi], [headHigh_P, headHigh_P_lo, headHigh_P_hi], [headHigh_E, headHigh_E_lo, headHigh_E_hi]],
  ["Trunk", "Low", [trunkLow_S, trunkLow_S_lo, trunkLow_S_hi], [trunkLow_P, trunkLow_P_lo, trunkLow_P_hi], [trunkLow_E, trunkLow_E_lo, trunkLow_E_hi]],
  ["Trunk", "Middle", [trunkMid_S, trunkMid_S_lo, trunkMid_S_hi], [trunkMid_P, trunkMid_P_lo, trunkMid_P_hi], [trunkMid_E, trunkMid_E_lo, trunkMid_E_hi]],
  ["Trunk", "High", [trunkHigh_S, trunkHigh_S_lo, trunkHigh_S_hi], [trunkHigh_P, trunkHigh_P_lo, trunkHigh_P_hi], [trunkHigh_E, trunkHigh_E_lo, trunkHigh_E_hi]],
  ["Pelvis", "Low", [pelvisLow_S, pelvisLow_S_lo, pelvisLow_S_hi], [pelvisLow_P, pelvisLow_P_lo, pelvisLow_P_hi], [pelvisLow_E, pelvisLow_E_lo, pelvisLow_E_hi]],
  ["Pelvis", "Middle", [pelvisMid_S, pelvisMid_S_lo, pelvisMid_S_hi], [pelvisMid_P, pelvisMid_P_lo, pelvisMid_P_hi], [pelvisMid_E, pelvisMid_E_lo, pelvisMid_E_hi]],
  ["Pelvis", "High", [pelvisHigh_S, pelvisHigh_S_lo, pelvisHigh_S_hi], [pelvisHigh_P, pelvisHigh_P_lo, pelvisHigh_P_hi], [pelvisHigh_E, pelvisHigh_E_lo, pelvisHigh_E_hi]]
];

const table = [];
for (const [row, col, ...ser] of panels) {
  ser.forEach(([m, lo, hi], s) => {
    freqs.forEach((f, i) => table.push({row, col, series: seriesNames[s], f, m: m[i], lo: lo[i], hi: hi[i]}));
  });
}

const yGridRows = [], yTickRows = [];
for (const row of rows) for (const col of cols) {
  const pm = row === "Pelvis" && col === "Middle";
  (pm ? yGridPelvisMiddle : yGridDefault).forEach(y => yGridRows.push({row, col, y}));
  (pm ? yTicksPelvisMiddle : yTicksDefault).forEach(y => yTickRows.push({row, col, y}));
}
const colTitleData = cols.map(col => ({col, row: rows[0]}));
const rowNameData = rows.map(row => ({col: cols[0], row}));
const xLabelData = cols.map(col => ({col, row: rows[rows.length - 1]}));
const xTickRows = cols.flatMap(col => xTicks.map((t, i) => ({col, row: rows[rows.length - 1], t, label: xTickLabels[i]})));

// layout
const W = 1500, H = 555;
const mL = 114.5, mR = 72, mT = 44.5, mB = 77;
const facetW = 402, facetH = 122.5;
const padX = 1 - facetW / (((W - mL - mR) - facetW) / 2);
const padY = 1 - facetH / (((H - mT - mB) - facetH) / 2);

const dark = "#262626";
const marks = [
  Plot.ruleX(xMinor, {x: d => d, stroke: "#bdbdbd", strokeWidth: 0.9, strokeDasharray: "1,2.2"}),
  Plot.ruleX(xTicks, {x: d => d, stroke: "#dcdcdc"}),
  Plot.ruleY(yGridRows, {y: "y", fx: "col", fy: "row", stroke: "#dcdcdc"})
];
seriesNames.forEach((name, s) => {
  const d = table.filter(r => r.series === name);
  marks.push(
    Plot.areaY(d, {x: "f", y1: "lo", y2: "hi", fx: "col", fy: "row", fill: seriesColors[s], fillOpacity: 0.26}),
    Plot.line(d, {x: "f", y: "m", fx: "col", fy: "row", stroke: seriesColors[s], strokeWidth: 2}),
    Plot.dot(d, {x: "f", y: "m", fx: "col", fy: "row", fill: seriesColors[s], r: 1.4})
  );
});
marks.push(
  Plot.ruleX([xDomain[0]], {stroke: dark}),
  Plot.ruleY([0], {stroke: dark}),
  Plot.tickX(xTicks, {x: d => d, stroke: dark, insetTop: facetH - 4.5}),
  Plot.tickY(yTickRows, {y: "y", fx: "col", fy: "row", stroke: dark, insetRight: facetW - 4.5}),
  Plot.text(xTickRows, {x: "t", fx: "col", fy: "row", text: "label", frameAnchor: "bottom", dy: 19, lineAnchor: "middle", fontSize: 18, fill: dark}),
  Plot.axisY({ticks: yTicksLabeled, tickSize: 0, tickPadding: 9, fontSize: 18, fill: dark, label: null}),
  Plot.text(colTitleData, {fx: "col", fy: "row", text: "col", frameAnchor: "top", dy: -17, lineAnchor: "middle", fontSize: 25, fontWeight: "bold", fill: "#000"}),
  Plot.text(rowNameData, {fx: "col", fy: "row", text: "row", frameAnchor: "left", dx: -87, rotate: -90, textAnchor: "middle", lineAnchor: "middle", fontSize: 26, fill: dark}),
  Plot.text(rowNameData, {fx: "col", fy: "row", text: () => yUnit, frameAnchor: "left", dx: -50, rotate: -90, textAnchor: "middle", lineAnchor: "middle", fontSize: 20, fill: dark}),
  Plot.text(xLabelData, {fx: "col", fy: "row", text: () => xLabel, frameAnchor: "bottom", dy: 55, lineAnchor: "middle", fontSize: 25, fill: dark})
);

const chart = Plot.plot({
  width: W, height: H,
  marginLeft: mL, marginRight: mR, marginTop: mT, marginBottom: mB,
  x: {type: "log", domain: xDomain, axis: null},
  y: {domain: [0, 40]},
  fx: {domain: cols, paddingInner: padX, paddingOuter: 0, round: false, axis: null},
  fy: {domain: rows, paddingInner: padY, paddingOuter: 0, round: false, axis: null},
  style: {fontFamily: "'Liberation Sans', Arial, Helvetica, sans-serif", background: "white", overflow: "visible"},
  marks
});
document.getElementById("chart").appendChild(chart);

// legend (inside Pelvis / High panel)
const legend = document.getElementById("legend");
seriesNames.forEach((name, s) => {
  const r = document.createElement("div"); r.className = "lrow";
  const l = document.createElement("span"); l.className = "lline"; l.style.background = seriesColors[s];
  const dt = document.createElement("span"); dt.className = "ldot"; dt.style.background = seriesColors[s];
  l.appendChild(dt);
  const t = document.createElement("span"); t.className = "ltext"; t.textContent = name;
  r.appendChild(l); r.appendChild(t); legend.appendChild(r);
});
</script></body></html>
